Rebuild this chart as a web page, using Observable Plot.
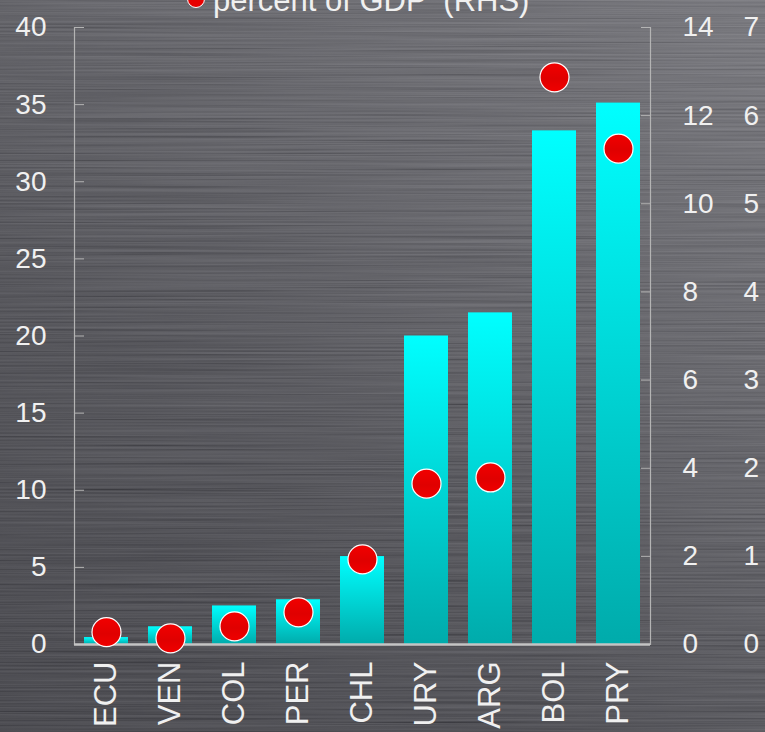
<!DOCTYPE html>
<html>
<head>
<meta charset="utf-8">
<script src="https://cdn.jsdelivr.net/npm/d3@7"></script>
<script src="https://cdn.jsdelivr.net/npm/@observablehq/plot@0.6"></script>
<style>
  html, body { margin: 0; padding: 0; width: 765px; height: 732px; overflow: hidden; }
  body {
    position: relative;
    font-family: "Liberation Sans", Arial, sans-serif;
    background-color: #3c3c42;
  }
  #chart { position: absolute; left: 0; top: 0; }
  #legend {
    position: absolute; left: 187px; top: -16px;
    display: flex; align-items: flex-start;
    color: #f0f0f0; font-size: 31px; line-height: 34px; white-space: pre;
  }
  #legend .swatch {
    width: 16px; height: 16px; border-radius: 50%;
    background: #e80000; border: 1.2px solid #ffffff;
    margin-top: 6px; margin-right: 8px;
  }
</style>
</head>
<body>
<div id="legend"><span class="swatch"></span><span>percent of GDP  (RHS)</span></div>
<div id="chart"></div>
<script>
// Countries on the horizontal axis
const countries = ["ECU", "VEN", "COL", "PER", "CHL", "URY", "ARG", "BOL", "PRY"];
// Bars, left-hand scale
const levels = [0.45, 1.15, 2.5, 2.9, 5.7, 20.0, 21.5, 33.3, 35.1];
// Dots, percent of GDP on the right-hand scale
const gdpShare = [0.28, 0.14, 0.41, 0.73, 1.93, 3.65, 3.79, 12.87, 11.25];

// Tick labels for the three vertical axes
const lhsTicks = [0, 5, 10, 15, 20, 25, 30, 35, 40];
const rhsTicks = [0, 2, 4, 6, 8, 10, 12, 14];
const rhs2Ticks = [0, 1, 2, 3, 4, 5, 6, 7];

const lhsMax = 40;
const rhsMax = 14;
const toLhs = v => v * lhsMax / rhsMax;

const rows = countries.map((country, i) => ({
  country, level: levels[i], share: gdpShare[i]
}));

// Brushed-metal backdrop: diagonal shading with fine horizontal streaks
const streaks = `<svg xmlns='http://www.w3.org/2000/svg' width='765' height='732'>
<filter id='n' x='0' y='0' width='100%' height='100%'>
<feTurbulence type='fractalNoise' baseFrequency='0.003 0.55' numOctaves='3' seed='7'/>
<feColorMatrix type='matrix' values='1 0 0 0 0  1 0 0 0 0  1 0 0 0 0  0 0 0 0 0.24'/>
</filter>
<rect width='765' height='732' filter='url(#n)'/></svg>`;
document.body.style.backgroundImage =
  `url("data:image/svg+xml,${encodeURIComponent(streaks)}"),` +
  `linear-gradient(35deg, #2a2a31 0%, #38383f 35%, #4e4e55 65%, #66666d 100%)`;

const chart = Plot.plot({
  width: 765,
  height: 732,
  marginLeft: 74,
  marginRight: 115,
  marginTop: 27,
  marginBottom: 88,
  style: {
    background: "transparent",
    color: "#f0f0f0",
    fontFamily: "'Liberation Sans', Arial, sans-serif",
    fontSize: "28px",
    overflow: "visible"
  },
  x: { domain: countries, paddingInner: 0.3125, paddingOuter: 0.15625, label: null },
  y: { domain: [0, lhsMax], label: null },
  marks: [
    Plot.barY(rows, { x: "country", y: "level", fill: "url(#barFill)" }),
    Plot.frame({ anchor: "left", stroke: "#b4b4b4", strokeWidth: 1.2 }),
    Plot.frame({ anchor: "right", stroke: "#b4b4b4", strokeWidth: 1.2 }),
    Plot.axisY(lhsTicks, {
      anchor: "left", tickSize: -10, tickPadding: 38,
      stroke: "#b4b4b4", fill: "#f0f0f0"
    }),
    Plot.axisY(rhsTicks.map(toLhs), {
      anchor: "right", tickSize: -10, tickPadding: 42,
      stroke: "#b4b4b4", fill: "#f0f0f0",
      tickFormat: d => String(Math.round(d * rhsMax / lhsMax))
    }),
    Plot.axisY(rhsTicks.map(toLhs), {
      anchor: "right", tickSize: 0, tickPadding: 93, fill: "#f0f0f0",
      tickFormat: d => String(rhs2Ticks[rhsTicks.indexOf(Math.round(d * rhsMax / lhsMax))])
    }),
    Plot.axisX({
      anchor: "bottom", tickSize: 0, tickPadding: 17, tickRotate: -90,
      fill: "#f0f0f0", fontSize: 31
    }),
    Plot.ruleY([0], { stroke: "#c4c4c4", strokeWidth: 2.5 }),
    Plot.dot(rows, {
      x: "country", y: d => toLhs(d.share), r: 14.5,
      fill: "url(#dotFill)", stroke: "#ffffff", strokeWidth: 1.2
    })
  ]
});

// Gradients used by the bars and the dots
const defs = d3.select(chart).insert("defs", ":first-child");
const bar = defs.append("linearGradient")
  .attr("id", "barFill").attr("x1", 0).attr("y1", 0).attr("x2", 0).attr("y2", 1);
bar.append("stop").attr("offset", "0%").attr("stop-color", "#00ffff");
bar.append("stop").attr("offset", "100%").attr("stop-color", "#00abab");
const dot = defs.append("linearGradient")
  .attr("id", "dotFill").attr("x1", 0).attr("y1", 0).attr("x2", 0).attr("y2", 1);
dot.append("stop").attr("offset", "0%").attr("stop-color", "#f20000");
dot.append("stop").attr("offset", "55%").attr("stop-color", "#e00000");
dot.append("stop").attr("offset", "100%").attr("stop-color", "#f00000");

document.getElementById("chart").append(chart);
</script>
</body>
</html>
